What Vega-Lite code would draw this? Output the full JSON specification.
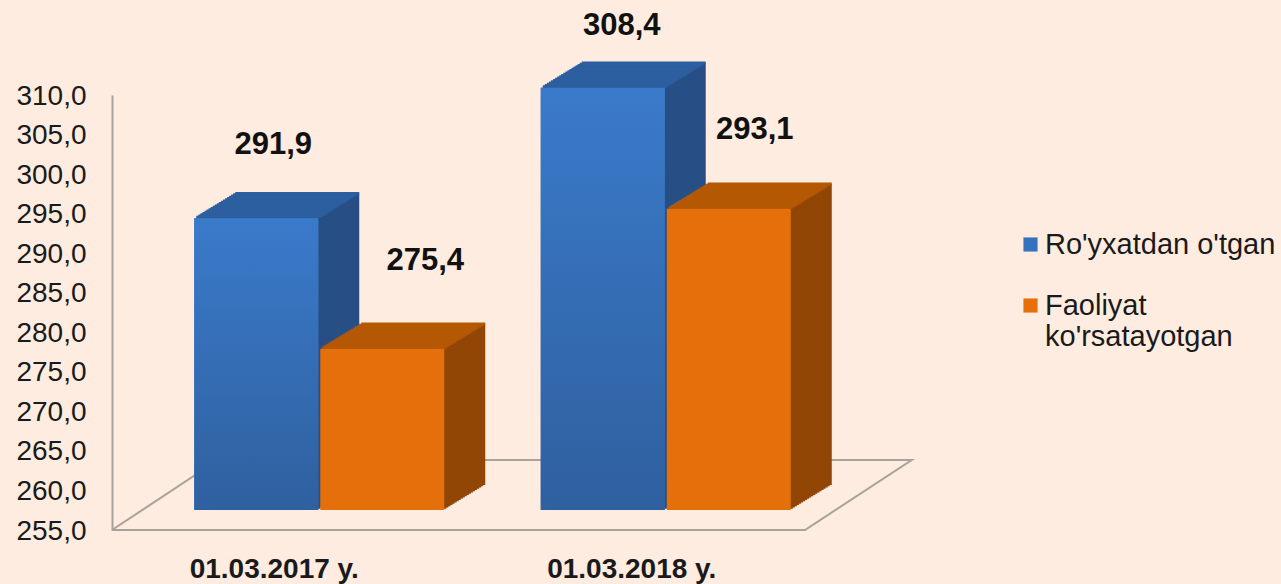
{"$schema":"https://vega.github.io/schema/vega-lite/v6.json","width":693,"height":435,"autosize":{"type":"none"},"padding":{"left":112,"top":95,"right":476,"bottom":54},"background":"#fdecdf","config":{"view":{"stroke":null},"tick":{"opacity":1},"locale":{"number":{"decimal":",","thousands":" ","grouping":[3],"currency":["",""]}}},"data":{"values":[{"date":"01.03.2017 y.","series":"Ro'yxatdan o'tgan","value":291.9},{"date":"01.03.2017 y.","series":"Faoliyat ko'rsatayotgan","value":275.4},{"date":"01.03.2018 y.","series":"Ro'yxatdan o'tgan","value":308.4},{"date":"01.03.2018 y.","series":"Faoliyat ko'rsatayotgan","value":293.1}]},"encoding":{"y":{"field":"value","type":"quantitative","scale":{"domain":[255,310],"nice":false,"zero":false},"title":null,"axis":{"values":[255,260,265,270,275,280,285,290,295,300,305,310],"format":".1f","grid":false,"ticks":false,"domainColor":"#a8a29a","domainWidth":2,"labelFont":"Liberation Sans","labelFontSize":28,"labelColor":"#1a1a1a","labelPadding":26,"labelOffset":1}}},"layer":[{"data":{"values":[{"pos":0,"value":255,"ord":1},{"pos":15.3,"value":263.85,"ord":2},{"pos":115.4,"value":263.85,"ord":3},{"pos":100,"value":255,"ord":4},{"pos":0,"value":255,"ord":5}]},"mark":{"type":"line","color":"#a8a29a","strokeWidth":2,"clip":false},"encoding":{"x":{"field":"pos","type":"quantitative","scale":{"domain":[0,100],"nice":false,"zero":false},"axis":null},"order":{"field":"ord"}}},{"encoding":{"x":{"field":"date","type":"nominal","title":null,"scale":{"paddingInner":0.28,"paddingOuter":0.14},"axis":{"labelAngle":0,"ticks":false,"domain":false,"labelFont":"Liberation Sans","labelFontWeight":"bold","labelFontSize":28,"labelColor":"#1a1a1a","labelPadding":25,"labelOffset":{"condition":{"test":"datum.value=='01.03.2017 y.'","value":-11},"value":0}}}},"layer":[{"encoding":{"y2":{"datum":255},"color":{"condition":{"test":"indexof(datum.series,'Ro')==0","value":"#274f85"},"value":"#914605"}},"layer":[{"mark":{"type":"bar","width":124,"yOffset":-45,"y2Offset":-45,"xOffset":{"expr":"75+(indexof(datum.series,'Ro')==0?-63:63)"}}},{"mark":{"type":"bar","width":124,"yOffset":-43.75,"y2Offset":-43.75,"xOffset":{"expr":"72.95+(indexof(datum.series,'Ro')==0?-63:63)"}}},{"mark":{"type":"bar","width":124,"yOffset":-42.5,"y2Offset":-42.5,"xOffset":{"expr":"70.9+(indexof(datum.series,'Ro')==0?-63:63)"}}},{"mark":{"type":"bar","width":124,"yOffset":-41.25,"y2Offset":-41.25,"xOffset":{"expr":"68.85+(indexof(datum.series,'Ro')==0?-63:63)"}}},{"mark":{"type":"bar","width":124,"yOffset":-40,"y2Offset":-40,"xOffset":{"expr":"66.8+(indexof(datum.series,'Ro')==0?-63:63)"}}},{"mark":{"type":"bar","width":124,"yOffset":-38.75,"y2Offset":-38.75,"xOffset":{"expr":"64.75+(indexof(datum.series,'Ro')==0?-63:63)"}}},{"mark":{"type":"bar","width":124,"yOffset":-37.5,"y2Offset":-37.5,"xOffset":{"expr":"62.7+(indexof(datum.series,'Ro')==0?-63:63)"}}},{"mark":{"type":"bar","width":124,"yOffset":-36.25,"y2Offset":-36.25,"xOffset":{"expr":"60.65+(indexof(datum.series,'Ro')==0?-63:63)"}}},{"mark":{"type":"bar","width":124,"yOffset":-35,"y2Offset":-35,"xOffset":{"expr":"58.6+(indexof(datum.series,'Ro')==0?-63:63)"}}},{"mark":{"type":"bar","width":124,"yOffset":-33.75,"y2Offset":-33.75,"xOffset":{"expr":"56.55+(indexof(datum.series,'Ro')==0?-63:63)"}}},{"mark":{"type":"bar","width":124,"yOffset":-32.5,"y2Offset":-32.5,"xOffset":{"expr":"54.5+(indexof(datum.series,'Ro')==0?-63:63)"}}},{"mark":{"type":"bar","width":124,"yOffset":-31.25,"y2Offset":-31.25,"xOffset":{"expr":"52.45+(indexof(datum.series,'Ro')==0?-63:63)"}}},{"mark":{"type":"bar","width":124,"yOffset":-30,"y2Offset":-30,"xOffset":{"expr":"50.4+(indexof(datum.series,'Ro')==0?-63:63)"}}},{"mark":{"type":"bar","width":124,"yOffset":-28.75,"y2Offset":-28.75,"xOffset":{"expr":"48.35+(indexof(datum.series,'Ro')==0?-63:63)"}}},{"mark":{"type":"bar","width":124,"yOffset":-27.5,"y2Offset":-27.5,"xOffset":{"expr":"46.3+(indexof(datum.series,'Ro')==0?-63:63)"}}},{"mark":{"type":"bar","width":124,"yOffset":-26.25,"y2Offset":-26.25,"xOffset":{"expr":"44.25+(indexof(datum.series,'Ro')==0?-63:63)"}}},{"mark":{"type":"bar","width":124,"yOffset":-25,"y2Offset":-25,"xOffset":{"expr":"42.2+(indexof(datum.series,'Ro')==0?-63:63)"}}},{"mark":{"type":"bar","width":124,"yOffset":-23.75,"y2Offset":-23.75,"xOffset":{"expr":"40.15+(indexof(datum.series,'Ro')==0?-63:63)"}}},{"mark":{"type":"bar","width":124,"yOffset":-22.5,"y2Offset":-22.5,"xOffset":{"expr":"38.1+(indexof(datum.series,'Ro')==0?-63:63)"}}},{"mark":{"type":"bar","width":124,"yOffset":-21.25,"y2Offset":-21.25,"xOffset":{"expr":"36.05+(indexof(datum.series,'Ro')==0?-63:63)"}}}]},{"encoding":{"color":{"condition":{"test":"indexof(datum.series,'Ro')==0","value":"#2d5f9f"},"value":"#b45805"}},"layer":[{"mark":{"type":"tick","orient":"horizontal","size":124,"thickness":2.5,"yOffset":-45,"xOffset":{"expr":"75+(indexof(datum.series,'Ro')==0?-63:63)"}}},{"mark":{"type":"tick","orient":"horizontal","size":124,"thickness":2.5,"yOffset":-43.75,"xOffset":{"expr":"72.95+(indexof(datum.series,'Ro')==0?-63:63)"}}},{"mark":{"type":"tick","orient":"horizontal","size":124,"thickness":2.5,"yOffset":-42.5,"xOffset":{"expr":"70.9+(indexof(datum.series,'Ro')==0?-63:63)"}}},{"mark":{"type":"tick","orient":"horizontal","size":124,"thickness":2.5,"yOffset":-41.25,"xOffset":{"expr":"68.85+(indexof(datum.series,'Ro')==0?-63:63)"}}},{"mark":{"type":"tick","orient":"horizontal","size":124,"thickness":2.5,"yOffset":-40,"xOffset":{"expr":"66.8+(indexof(datum.series,'Ro')==0?-63:63)"}}},{"mark":{"type":"tick","orient":"horizontal","size":124,"thickness":2.5,"yOffset":-38.75,"xOffset":{"expr":"64.75+(indexof(datum.series,'Ro')==0?-63:63)"}}},{"mark":{"type":"tick","orient":"horizontal","size":124,"thickness":2.5,"yOffset":-37.5,"xOffset":{"expr":"62.7+(indexof(datum.series,'Ro')==0?-63:63)"}}},{"mark":{"type":"tick","orient":"horizontal","size":124,"thickness":2.5,"yOffset":-36.25,"xOffset":{"expr":"60.65+(indexof(datum.series,'Ro')==0?-63:63)"}}},{"mark":{"type":"tick","orient":"horizontal","size":124,"thickness":2.5,"yOffset":-35,"xOffset":{"expr":"58.6+(indexof(datum.series,'Ro')==0?-63:63)"}}},{"mark":{"type":"tick","orient":"horizontal","size":124,"thickness":2.5,"yOffset":-33.75,"xOffset":{"expr":"56.55+(indexof(datum.series,'Ro')==0?-63:63)"}}},{"mark":{"type":"tick","orient":"horizontal","size":124,"thickness":2.5,"yOffset":-32.5,"xOffset":{"expr":"54.5+(indexof(datum.series,'Ro')==0?-63:63)"}}},{"mark":{"type":"tick","orient":"horizontal","size":124,"thickness":2.5,"yOffset":-31.25,"xOffset":{"expr":"52.45+(indexof(datum.series,'Ro')==0?-63:63)"}}},{"mark":{"type":"tick","orient":"horizontal","size":124,"thickness":2.5,"yOffset":-30,"xOffset":{"expr":"50.4+(indexof(datum.series,'Ro')==0?-63:63)"}}},{"mark":{"type":"tick","orient":"horizontal","size":124,"thickness":2.5,"yOffset":-28.75,"xOffset":{"expr":"48.35+(indexof(datum.series,'Ro')==0?-63:63)"}}},{"mark":{"type":"tick","orient":"horizontal","size":124,"thickness":2.5,"yOffset":-27.5,"xOffset":{"expr":"46.3+(indexof(datum.series,'Ro')==0?-63:63)"}}},{"mark":{"type":"tick","orient":"horizontal","size":124,"thickness":2.5,"yOffset":-26.25,"xOffset":{"expr":"44.25+(indexof(datum.series,'Ro')==0?-63:63)"}}},{"mark":{"type":"tick","orient":"horizontal","size":124,"thickness":2.5,"yOffset":-25,"xOffset":{"expr":"42.2+(indexof(datum.series,'Ro')==0?-63:63)"}}},{"mark":{"type":"tick","orient":"horizontal","size":124,"thickness":2.5,"yOffset":-23.75,"xOffset":{"expr":"40.15+(indexof(datum.series,'Ro')==0?-63:63)"}}},{"mark":{"type":"tick","orient":"horizontal","size":124,"thickness":2.5,"yOffset":-22.5,"xOffset":{"expr":"38.1+(indexof(datum.series,'Ro')==0?-63:63)"}}},{"mark":{"type":"tick","orient":"horizontal","size":124,"thickness":2.5,"yOffset":-21.25,"xOffset":{"expr":"36.05+(indexof(datum.series,'Ro')==0?-63:63)"}}}]},{"mark":{"type":"bar","width":124,"yOffset":-20,"y2Offset":-20,"xOffset":{"expr":"34+(indexof(datum.series,'Ro')==0?-63:63)"}},"encoding":{"y2":{"datum":255},"color":{"field":"series","type":"nominal","sort":null,"scale":{"range":["#3572bd","#e56f0b"]},"legend":{"title":null,"orient":"none","legendX":904,"legendY":135,"symbolType":"square","symbolSize":200,"symbolStrokeWidth":0,"labelFont":"Liberation Sans","labelFontSize":29,"labelColor":"#1a1a1a","labelLimit":300,"rowPadding":31,"labelOffset":0,"labelExpr":"indexof(datum.label,'Faoliyat')==0?['Faoliyat','ko\\'rsatayotgan']:datum.label"}}}},{"transform":[{"filter":"indexof(datum.series,'Ro')==0"}],"encoding":{"y2":{"datum":255}},"mark":{"type":"bar","width":124,"yOffset":-20,"y2Offset":-20,"xOffset":-29,"fill":{"x1":0,"y1":0,"x2":0,"y2":1,"gradient":"linear","stops":[{"offset":0,"color":"#3a7aca"},{"offset":1,"color":"#2f609f"}]}}},{"transform":[{"filter":"datum.value==291.9"}],"mark":{"type":"text","fontSize":31,"fontWeight":"bold","font":"Liberation Sans","color":"#111111","dx":-12,"dy":-93},"encoding":{"text":{"field":"value","format":".1f"}}},{"transform":[{"filter":"datum.value==275.4"}],"mark":{"type":"text","fontSize":31,"fontWeight":"bold","font":"Liberation Sans","color":"#111111","dx":140,"dy":-107.6},"encoding":{"text":{"field":"value","format":".1f"}}},{"transform":[{"filter":"datum.value==308.4"}],"mark":{"type":"text","fontSize":31,"fontWeight":"bold","font":"Liberation Sans","color":"#111111","dx":-10,"dy":-81.6},"encoding":{"text":{"field":"value","format":".1f"}}},{"transform":[{"filter":"datum.value==293.1"}],"mark":{"type":"text","fontSize":31,"fontWeight":"bold","font":"Liberation Sans","color":"#111111","dx":123,"dy":-98.6},"encoding":{"text":{"field":"value","format":".1f"}}}]}],"resolve":{"scale":{"x":"independent"}}}
